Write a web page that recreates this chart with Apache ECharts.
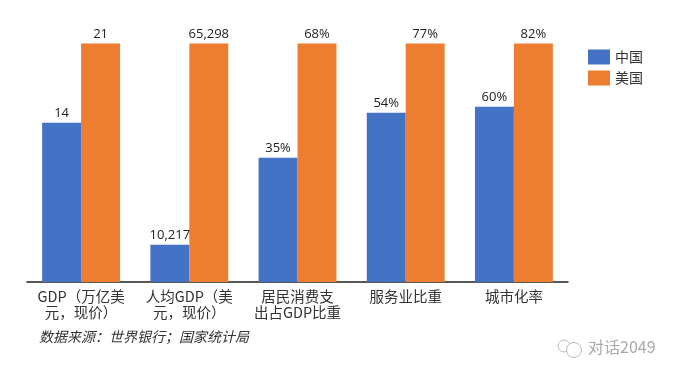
<!DOCTYPE html>
<html><head><meta charset="utf-8">
<style>html,body{margin:0;padding:0;background:#fff}#c{width:678px;height:370px}</style>
<script src="https://cdn.jsdelivr.net/npm/echarts@6/dist/echarts.min.js"></script>
</head><body><div id="c"></div>
<script>
const categories = ["GDP（万亿美\n元，现价）","人均GDP（美\n元，现价）","居民消费支\n出占GDP比重","服务业比重","城市化率"];
const chinaShare = [0.668, 0.156, 0.521, 0.71, 0.735];
const usShare = [1, 1, 1, 1, 1];
const chinaLabels = ["14","10,217","35%","54%","60%"];
const usLabels = ["21","65,298","68%","77%","82%"];
const seriesNames = ["中国","美国"];
const sourceNote = "数据来源：世界银行；国家统计局";
const watermark = "对话2049";
const FONT = '"Noto Sans CJK SC","Open Sans",sans-serif';
const LABELFONT = '"Open Sans","Noto Sans CJK SC",sans-serif';
const chart = echarts.init(document.getElementById('c'), null, {renderer:'canvas'});
const bar = (name, data, labels, color) => ({
  name, type:'bar', barWidth:'36%', barGap:'0%', data, animation:false,
  itemStyle:{color},
  label:{show:true, position:'top', distance:3, color:'#222', fontSize:13, fontFamily:LABELFONT,
    formatter:p=>labels[p.dataIndex]}
});
chart.setOption({
  animation:false,
  grid:{left:27, width:541, top:43.5, height:238.5},
  legend:{left:583, top:44.5, orient:'vertical', itemWidth:22, itemHeight:15, itemGap:6,
    icon:'rect', textStyle:{fontSize:14, color:'#333', fontFamily:FONT},
    data:seriesNames},
  xAxis:{type:'category', data:categories,
    axisLine:{lineStyle:{color:'#222', width:1.5}}, axisTick:{show:false},
    axisLabel:{interval:0, color:'#333', fontSize:14.5, lineHeight:16, margin:6, fontFamily:FONT}},
  yAxis:{type:'value', min:0, max:1, show:false, splitLine:{show:false}},
  series:[
    bar(seriesNames[0], chinaShare, chinaLabels, '#4472C4'),
    bar(seriesNames[1], usShare, usLabels, '#ED7D31')
  ],
  graphic:[
    {type:'text', left:39, top:330, style:{text:sourceNote, fill:'#333', font:'italic 14px '+FONT}},
    {type:'text', left:588, top:339, style:{text:watermark, fill:'#aaa', font:'16px '+FONT}},
    {type:'circle', shape:{cx:564,cy:346,r:6}, style:{fill:'none',stroke:'#bbb',lineWidth:1}},
    {type:'circle', shape:{cx:574,cy:350,r:7.5}, style:{fill:'#fff',stroke:'#bbb',lineWidth:1}}
  ]
});
</script></body></html>
